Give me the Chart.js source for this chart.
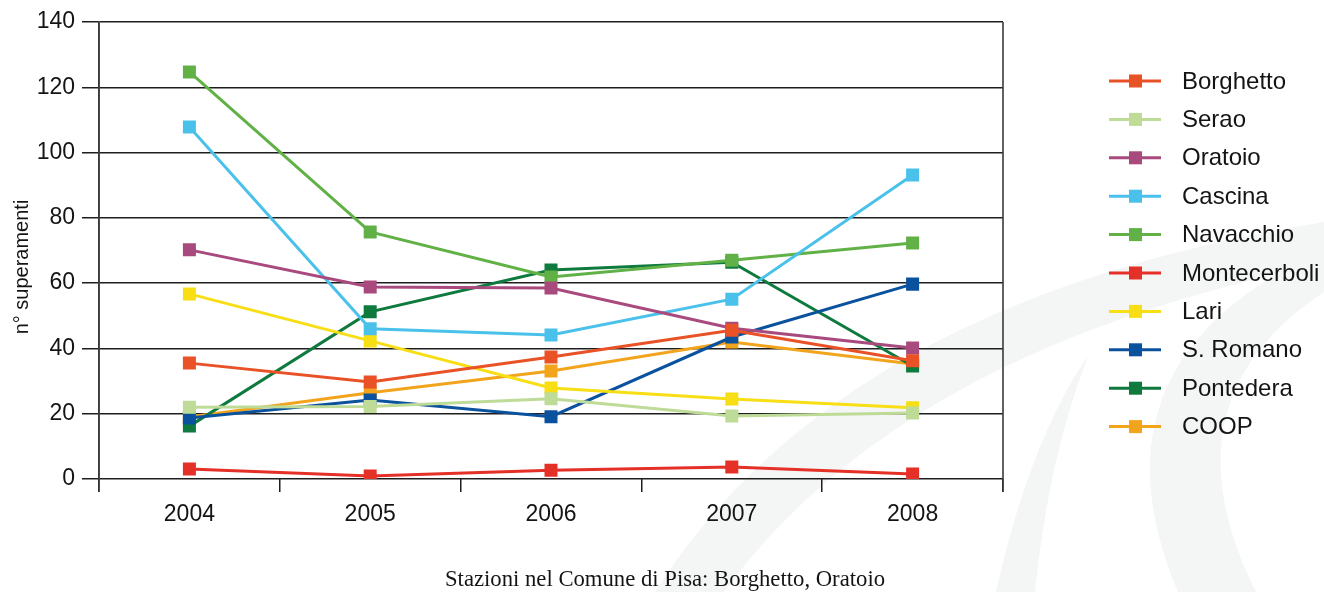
<!DOCTYPE html>
<html lang="it">
<head>
<meta charset="utf-8">
<title>Superamenti PM10 2004-2008</title>
<script src="https://cdn.jsdelivr.net/npm/chart.js@4/dist/chart.umd.min.js"></script>
<style>
  html, body { margin: 0; padding: 0; background: #ffffff; }
  #wrap { width: 1324px; height: 592px; position: relative; }
  canvas { display: block; }
</style>
</head>
<body>
<div id="wrap"><canvas id="chart" width="1324" height="592"></canvas></div>
<script>
// Anni di riferimento
const years = ['2004', '2005', '2006', '2007', '2008'];

// Numero di superamenti per stazione
const borghetto    = [35.5, 29.7, 37.4, 45.6, 36.2];
const serao        = [22.0, 22.2, 24.6, 19.3, 20.2];
const oratoio      = [70.2, 58.8, 58.5, 46.2, 40.1];
const cascina      = [107.8, 46.0, 44.1, 55.1, 93.1];
const navacchio    = [124.7, 75.7, 61.9, 67.0, 72.3];
const montecerboli = [3.1, 0.9, 2.7, 3.7, 1.5];
const lari         = [56.7, 42.3, 27.9, 24.5, 21.8];
const sRomano      = [18.7, 24.2, 19.1, 43.5, 59.7];
const pontedera    = [16.2, 51.2, 64.0, 66.4, 34.6];
const coop         = [19.0, 26.4, 33.1, 42.0, 35.2];

const stationNames  = ['Borghetto', 'Serao', 'Oratoio', 'Cascina', 'Navacchio',
                       'Montecerboli', 'Lari', 'S. Romano', 'Pontedera', 'COOP'];
const stationValues = [borghetto, serao, oratoio, cascina, navacchio,
                       montecerboli, lari, sRomano, pontedera, coop];
const stationColors = ['#E95127', '#BEDB98', '#A94A7F', '#4AC1EA', '#62B146',
                       '#E53027', '#F8DE14', '#0B529E', '#0F7A3E', '#F3A41D'];

const yTicks = [0, 20, 40, 60, 80, 100, 120, 140];
const yTitle = 'n° superamenti';
const caption = 'Stazioni nel Comune di Pisa: Borghetto, Oratoio';

const SANS = '"Liberation Sans", Arial, Helvetica, sans-serif';
const SERIF = '"Liberation Serif", "Times New Roman", serif';
const INK = '#141414';
const RULE = '#1e1e1e';

const datasets = stationNames.map((name, i) => ({
  label: name,
  data: stationValues[i],
  borderColor: stationColors[i],
  backgroundColor: stationColors[i],
  borderWidth: 3,
  pointStyle: 'rect',
  pointRadius: 9.2,
  pointHoverRadius: 9.2,
  pointBorderWidth: 0,
  pointBackgroundColor: stationColors[i],
  tension: 0,
  fill: false
}));

// Light logo swoosh behind the plot
const backdrop = {
  id: 'backdrop',
  beforeDraw(chart) {
    const ctx = chart.ctx;
    ctx.save();
    ctx.fillStyle = '#ffffff';
    ctx.fillRect(0, 0, chart.width, chart.height);
    ctx.fillStyle = '#f4f5f5';
    // long sweeping band
    ctx.beginPath();
    ctx.moveTo(655, 592);
    ctx.quadraticCurveTo(840, 300, 1324, 222);
    ctx.lineTo(1324, 264);
    ctx.quadraticCurveTo(900, 350, 724, 592);
    ctx.closePath();
    ctx.fill();
    // narrow spike
    ctx.beginPath();
    ctx.moveTo(996, 592);
    ctx.quadraticCurveTo(1030, 440, 1088, 356);
    ctx.quadraticCurveTo(1048, 460, 1035, 592);
    ctx.closePath();
    ctx.fill();
    // right arc
    ctx.beginPath();
    ctx.moveTo(1178, 592);
    ctx.quadraticCurveTo(1080, 360, 1324, 250);
    ctx.lineTo(1324, 292);
    ctx.quadraticCurveTo(1160, 400, 1256, 592);
    ctx.closePath();
    ctx.fill();
    ctx.restore();
  }
};

// Frame lines, axis title, legend and caption
const decorations = {
  id: 'decorations',
  afterDraw(chart) {
    const ctx = chart.ctx;
    const a = chart.chartArea;
    ctx.save();
    // vertical frame lines reaching the x tick marks
    ctx.strokeStyle = '#3a3a3a';
    ctx.lineWidth = 1.6;
    [a.left, a.right].forEach(x => {
      ctx.beginPath();
      ctx.moveTo(x, a.top);
      ctx.lineTo(x, a.bottom + 13);
      ctx.stroke();
    });

    // y axis title
    ctx.fillStyle = INK;
    ctx.font = '20px ' + SANS;
    ctx.textAlign = 'center';
    ctx.textBaseline = 'middle';
    ctx.translate(22, 267);
    ctx.rotate(-Math.PI / 2);
    ctx.fillText(yTitle, 0, 0);
    ctx.setTransform(1, 0, 0, 1, 0, 0);

    // legend
    chart.data.datasets.forEach((ds, i) => {
      const y = 81 + i * 38.4;
      ctx.strokeStyle = ds.borderColor;
      ctx.lineWidth = 3;
      ctx.beginPath();
      ctx.moveTo(1109, y);
      ctx.lineTo(1161, y);
      ctx.stroke();
      ctx.fillStyle = ds.borderColor;
      ctx.fillRect(1129, y - 6.5, 13, 13);
      ctx.fillStyle = INK;
      ctx.font = '24px ' + SANS;
      ctx.textAlign = 'left';
      ctx.textBaseline = 'middle';
      ctx.fillText(ds.label, 1182, y + 1);
    });

    // caption
    ctx.fillStyle = INK;
    ctx.font = '22.7px ' + SERIF;
    ctx.textAlign = 'center';
    ctx.textBaseline = 'alphabetic';
    ctx.fillText(caption, 665, 586);
    ctx.restore();
  }
};

new Chart(document.getElementById('chart'), {
  type: 'line',
  data: { labels: years, datasets },
  options: {
    responsive: false,
    animation: false,
    events: [],
    layout: { padding: { top: 22, right: 321, left: 0, bottom: 0 } },
    plugins: {
      legend: { display: false },
      tooltip: { enabled: false }
    },
    scales: {
      x: {
        type: 'category',
        offset: true,
        afterFit(scale) { scale.height = 113; },
        grid: {
          offset: true,
          drawOnChartArea: false,
          drawTicks: true,
          tickLength: 13,
          color: RULE,
          lineWidth: 1.5
        },
        border: { display: false },
        ticks: {
          color: INK,
          font: { family: SANS, size: 23 },
          padding: 9,
          maxRotation: 0
        }
      },
      y: {
        min: 0,
        max: 140,
        afterFit(scale) { scale.width = 99; },
        afterBuildTicks(scale) { scale.ticks = yTicks.map(v => ({ value: v })); },
        grid: {
          color: RULE,
          lineWidth: 1.5,
          tickLength: 17
        },
        border: { display: true, color: '#3a3a3a', width: 1.6 },
        ticks: {
          color: INK,
          font: { family: SANS, size: 23 },
          padding: 7
        }
      }
    }
  },
  plugins: [backdrop, decorations]
});
</script>
</body>
</html>
